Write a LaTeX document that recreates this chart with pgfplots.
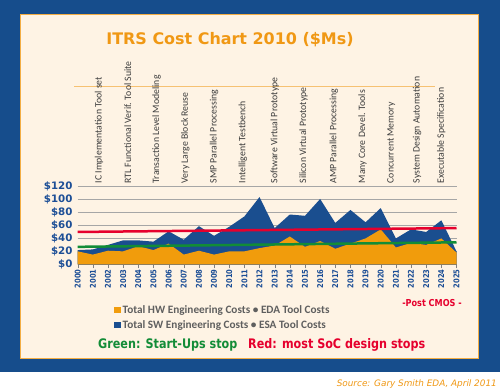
\documentclass[border=0pt]{standalone}
\usepackage{pgfplots}
\pgfplotsset{compat=1.18}
\usepackage{fontspec}
\setmainfont{Carlito}
\newfontfamily\dvs{DejaVu Sans}
\newfontfamily\dvsc{DejaVu Sans}[FakeStretch=0.85]
\definecolor{frameblue}{RGB}{22,77,140}
\definecolor{cream}{RGB}{254,243,228}
\definecolor{areablue}{RGB}{26,78,143}
\definecolor{areaorange}{RGB}{241,156,12}
\definecolor{redline}{RGB}{230,0,45}
\definecolor{greenline}{RGB}{18,140,55}
\definecolor{titleorange}{RGB}{240,152,20}
\definecolor{tickblue}{RGB}{28,78,150}
\definecolor{leggray}{RGB}{95,95,95}
\definecolor{catgray}{RGB}{60,60,60}
\tikzset{cat/.style={rotate=90, anchor=west, font=\fontsize{9.8}{9.8}\selectfont, text=catgray, inner sep=0pt}}
\begin{document}
\begin{tikzpicture}
\useasboundingbox (0,0) rectangle (500bp,390bp);
\fill[white] (0,0) rectangle (500bp,390bp);
\fill[frameblue] (0,18bp) rectangle (500bp,390bp);
\fill[cream, draw=titleorange!80, line width=0.6bp] (20bp,32bp) rectangle (478bp,376bp);
\node[font=\dvs\bfseries\fontsize{16}{18}\selectfont, text=titleorange] at (230bp,350bp) {ITRS Cost Chart 2010 (\$Ms)};
\draw[titleorange!60, line width=1bp] (74bp,303bp) -- (435bp,303bp);
\begin{axis}[
  scale only axis,
  width=378.8bp, height=77.6bp,
  at={(77.7bp,125.7bp)}, anchor=south west,
  xmin=2000, xmax=2025, ymin=0, ymax=120,
  clip=false,
  axis x line=bottom, axis y line=left,
  axis line style={-},
  x axis line style={draw=gray},
  y axis line style={draw=none},
  xtick={2000,...,2025},
  xticklabels={2000,2001,2002,2003,2004,2005,2006,2007,2008,2009,2010,2011,2012,2013,2014,2015,2016,2017,2018,2019,2020,2021,2022,2023,2024,2025},
  xticklabel style={rotate=90, anchor=east, font=\dvsc\bfseries\fontsize{8}{8}\selectfont, text=tickblue, inner sep=1bp},
  ytick={0,20,40,60,80,100,120},
  yticklabels={\$0,\$20,\$40,\$60,\$80,\$100,\$120},
  yticklabel style={font=\dvs\bfseries\fontsize{10.3}{10.3}\selectfont, text=tickblue, inner sep=1bp},
  tick align=outside,
  major tick length=4bp,
  xtick style={draw=gray},
  ytick style={draw=none},
  ymajorgrids,
  grid style={gray!70, line width=0.6bp},
  reverse legend,
  legend style={at={(axis description cs:0.096,-0.5)}, anchor=north west, draw=none, fill=none,
    font=\bfseries\fontsize{11.3}{11.3}\selectfont, text=leggray, row sep=1.5bp, inner sep=0pt},
  legend cell align=left,
  legend image code/.code={\fill[#1] (0bp,-3.2bp) rectangle (6.4bp,3.2bp);},
]
\addplot[fill=areablue, draw=none] coordinates {
(2000,22) (2001,23) (2002,30) (2003,37) (2004,37) (2005,35) (2006,51) (2007,38) (2008,59) (2009,44)
(2010,58) (2011,74) (2012,104) (2013,56) (2014,77) (2015,75) (2016,101) (2017,64) (2018,84) (2019,65)
(2020,87) (2021,40) (2022,54) (2023,50) (2024,68) (2025,20)} \closedcycle;
\addlegendentry{Total SW Engineering Costs \textbullet\ ESA Tool Costs}
\addplot[fill=areaorange, draw=none] coordinates {
(2000,20) (2001,15) (2002,21) (2003,20) (2004,28) (2005,22) (2006,32) (2007,15) (2008,21) (2009,15)
(2010,20) (2011,20) (2012,25) (2013,29) (2014,43) (2015,27) (2016,36) (2017,24) (2018,32) (2019,40)
(2020,54) (2021,26) (2022,33) (2023,30) (2024,40) (2025,18)} \closedcycle;
\addlegendentry{Total HW Engineering Costs \textbullet\ EDA Tool Costs}
\addplot[redline, line width=2.5bp, forget plot] coordinates {(2000,50) (2025,56)};
\addplot[greenline, line width=2.5bp, forget plot] coordinates {(2000,27) (2025,34)};
\node[cat] at (axis cs:2001.4,125) {IC Implementation Tool set};
\node[cat] at (axis cs:2003.3,125) {RTL Functional Verif. Tool Suite};
\node[cat] at (axis cs:2005.2,125) {Transaction Level Modeling};
\node[cat] at (axis cs:2007.1,125) {Very Large Block Reuse};
\node[cat] at (axis cs:2009.0,125) {SMP Parallel Processing};
\node[cat] at (axis cs:2010.9,125) {Intelligent Testbench};
\node[cat] at (axis cs:2013.0,125) {Software Virtual Prototype};
\node[cat] at (axis cs:2014.9,125) {Silicon Virtual Prototype};
\node[cat] at (axis cs:2016.9,125) {AMP Parallel Processing};
\node[cat] at (axis cs:2018.8,125) {Many Core Devel. Tools};
\node[cat] at (axis cs:2020.7,125) {Concurrent Memory};
\node[cat] at (axis cs:2022.4,125) {System Design Automation};
\node[cat] at (axis cs:2024.0,125) {Executable Specification};
\end{axis}
\node[font=\dvsc\bfseries\fontsize{9.6}{9.6}\selectfont, text=redline] at (432bp,87bp) {-Post CMOS -};
\node[font=\dvsc\bfseries\fontsize{13.2}{13.2}\selectfont, text=greenline, anchor=west, inner sep=0pt] at (98bp,45bp) {Green: Start-Ups stop};
\node[font=\dvsc\bfseries\fontsize{13.2}{13.2}\selectfont, text=redline, anchor=west, inner sep=0pt] at (248bp,45bp) {Red: most SoC design stops};
\node[font=\dvs\itshape\fontsize{8.9}{8.9}\selectfont, text=titleorange, anchor=east, inner sep=0pt] at (497bp,6bp) {Source: Gary Smith EDA, April 2011};
\end{tikzpicture}
\end{document}
